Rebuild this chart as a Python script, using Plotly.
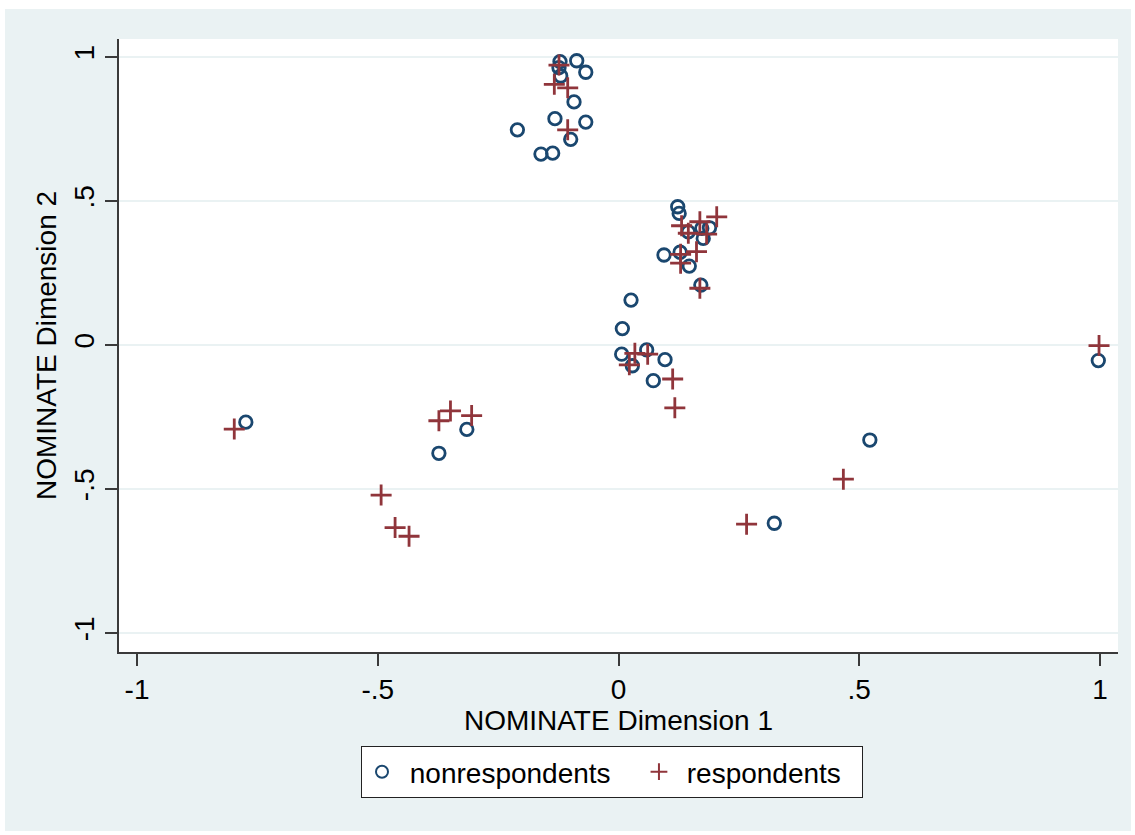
import plotly.graph_objects as go

# nonrespondents (circles)
non_x = [-0.1215, -0.0868, -0.1236, -0.120, -0.068, -0.0924, -0.132, -0.068, -0.210, -0.0993, -0.161, -0.1367,
         0.123, 0.126, 0.189, 0.173, 0.145, 0.176, 0.0945, 0.128, 0.147, 0.171,
         0.026, 0.008, 0.0066, 0.0585, 0.0966, 0.0287, 0.0723,
         -0.774, -0.315, -0.373, 0.522, 0.3236, 0.9965]
non_y = [0.984, 0.987, 0.963, 0.934, 0.947, 0.844, 0.786, 0.774, 0.747, 0.714, 0.663, 0.666,
         0.480, 0.457, 0.407, 0.405, 0.393, 0.370, 0.3125, 0.322, 0.274, 0.208,
         0.156, 0.057, -0.032, -0.017, -0.051, -0.072, -0.124,
         -0.268, -0.293, -0.376, -0.330, -0.619, -0.054]

# respondents (plus)
resp_x = [-0.1236, -0.1333, -0.1055, -0.1055,
          0.204, 0.169, 0.131, 0.145, 0.183, 0.129, 0.162, 0.129, 0.169,
          0.034, 0.0606, 0.0225, 0.1125, 0.117,
          -0.798, -0.373, -0.349, -0.305, -0.493, -0.464, -0.435, 0.467, 0.266, 0.998]
resp_y = [0.972, 0.905, 0.893, 0.747,
          0.445, 0.428, 0.414, 0.388, 0.385, 0.315, 0.324, 0.284, 0.197,
          -0.029, -0.032, -0.069, -0.118, -0.218,
          -0.292, -0.263, -0.229, -0.245, -0.521, -0.634, -0.664, -0.466, -0.622, -0.002]

tick_vals = [-1, -0.5, 0, 0.5, 1]
tick_text = ["-1", "-.5", "0", ".5", "1"]

BG = "#EAF2F3"
NAVY = "#1A476F"
MAROON = "#90353B"
AXIS = "#3a3a3a"
FONT = "Liberation Sans"
FS = 28
NB = "\u00a0"

fig = go.Figure()
fig.add_trace(go.Scatter(
    x=non_x, y=non_y, mode="markers", name=NB + "nonrespondents" + NB * 3,
    marker=dict(symbol="circle-open", size=12.5, color=NAVY, line=dict(width=2.8, color=NAVY)),
))
fig.add_trace(go.Scatter(
    x=resp_x, y=resp_y, mode="markers", name=NB + "respondents" + NB * 2,
    marker=dict(symbol="cross-thin-open", size=15, color=MAROON, line=dict(width=2.8, color=MAROON)),
))

# plot area pixel box: x 119..1118, y 39..652
L, R, T, B = 119, 1118, 39, 652
W, H = 1135, 835
pw, ph = R - L, B - T
def px2x(p):
    return (p - L) / pw
def px2y(p):
    return (B - p) / ph

shapes = [
    dict(type="rect", xref="paper", yref="paper", layer="below",
         x0=px2x(5), x1=px2x(1131), y0=px2y(831), y1=px2y(9),
         fillcolor=BG, line=dict(width=0)),
    dict(type="rect", xref="paper", yref="paper", layer="below",
         x0=0, x1=1, y0=0, y1=1, fillcolor="white", line=dict(width=0)),
]

fig.update_layout(
    width=W, height=H,
    margin=dict(l=L, r=W - R, t=T, b=H - B),
    paper_bgcolor="white", plot_bgcolor="white",
    font=dict(family=FONT, size=FS, color="black"),
    shapes=shapes,
    showlegend=True,
    legend=dict(
        orientation="h", x=px2x(361), y=px2y(746), xanchor="left", yanchor="top",
        bgcolor="white", bordercolor="#222222", borderwidth=1,
        font=dict(family=FONT, size=FS, color="black"),
        itemsizing="constant",
    ),
    xaxis=dict(
        range=[-1.0374, 1.0374], tickvals=tick_vals, ticktext=tick_text,
        showgrid=False, zeroline=False,
        showline=True, linecolor=AXIS, linewidth=1.5,
        ticks="outside", ticklen=12, tickwidth=1.5, tickcolor=AXIS,
        tickfont=dict(family=FONT, size=FS),
        title=dict(text="NOMINATE Dimension 1", font=dict(family=FONT, size=FS), standoff=0),
    ),
    yaxis=dict(
        range=[-1.066, 1.0625], tickvals=tick_vals, ticktext=tick_text,
        showgrid=True, gridcolor=BG, gridwidth=2, zeroline=False,
        showline=True, linecolor=AXIS, linewidth=1.5,
        ticks="outside", ticklen=12, tickwidth=1.5, tickcolor=AXIS,
        tickangle=-90,
        tickfont=dict(family=FONT, size=FS),
        title=dict(text="NOMINATE Dimension 2", font=dict(family=FONT, size=FS), standoff=4),
    ),
)

fig.write_html("out.html")
